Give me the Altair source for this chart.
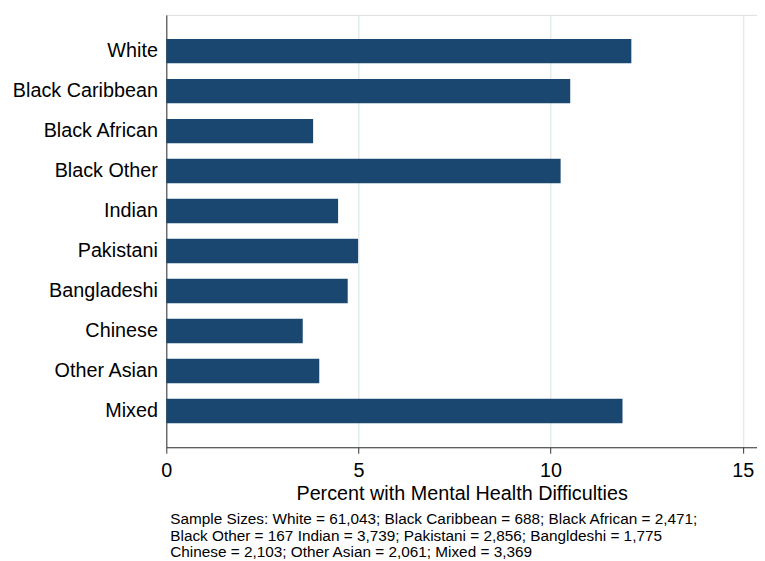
import altair as alt
import pandas as pd

groups = ["White", "Black Caribbean", "Black African", "Black Other", "Indian",
          "Pakistani", "Bangladeshi", "Chinese", "Other Asian", "Mixed"]
percent = [12.10, 10.51, 3.82, 10.26, 4.47, 4.99, 4.72, 3.55, 3.98, 11.87]
x_ticks = [0, 5, 10, 15]
note_lines = [
    "Sample Sizes: White = 61,043; Black Caribbean = 688; Black African = 2,471;",
    "Black Other = 167 Indian = 3,739; Pakistani = 2,856; Bangldeshi = 1,775",
    "Chinese = 2,103; Other Asian = 2,061; Mixed = 3,369",
]

df = pd.DataFrame({"group": groups, "pct": percent})

FONT = "Liberation Sans"

chart = alt.Chart(df).mark_bar(color="#1a476f").encode(
    x=alt.X("pct:Q",
            scale=alt.Scale(domain=[0, 15.37], nice=False, zero=True),
            axis=alt.Axis(values=x_ticks, title="Percent with Mental Health Difficulties",
                          labelFontSize=20, titleFontSize=20, labelFont=FONT, titleFont=FONT,
                          labelColor="#000000", titleColor="#000000", titleFontWeight="normal",
                          tickSize=6, tickColor="#333333", domainColor="#333333",
                          labelPadding=8, titlePadding=3, grid=True,
                          gridColor="#e4ebef", gridWidth=1.5, labelFlush=False)),
    y=alt.Y("group:N", sort=groups,
            scale=alt.Scale(paddingInner=0.39, paddingOuter=0.6),
            axis=alt.Axis(title=None, labelFontSize=20, labelFont=FONT, labelColor="#000000",
                          ticks=False, labelPadding=9, domainColor="#333333", grid=False)),
).properties(
    width=597,
    height=437,
    padding={"left": 160, "top": 4, "right": 0, "bottom": 112},
    autosize=alt.AutoSizeParams(type="none"),
    title=alt.TitleParams(text=note_lines, orient="bottom", anchor="start", frame="group",
                          fontSize=15.5, font=FONT, fontWeight="normal", color="#000000",
                          dx=4, offset=9, lineHeight=16.5, baseline="top"),
).configure_view(stroke=None).configure(background="white")

chart.save("out.html", embed_options={"renderer": "svg", "actions": False})
